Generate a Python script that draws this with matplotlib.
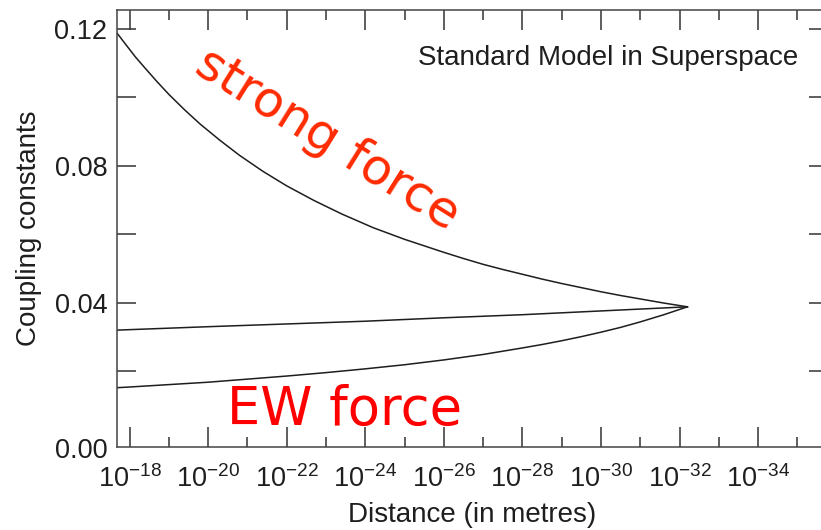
import matplotlib.pyplot as plt
from matplotlib.ticker import FixedLocator
from matplotlib.transforms import ScaledTranslation

plt.rcParams['font.family'] = ['Liberation Sans', 'DejaVu Sans']
plt.rcParams['mathtext.fontset'] = 'custom'
plt.rcParams['mathtext.rm'] = 'Liberation Sans'
plt.rcParams['mathtext.it'] = 'Liberation Sans:italic'
plt.rcParams['mathtext.bf'] = 'Liberation Sans:bold'

# x values are n for a distance of 10^-n metres
strong_n = [17.68, 17.9, 18.15, 18.4, 18.7, 19.0, 19.4, 19.8, 20.3, 20.8,
            21.4, 22.0, 22.7, 23.4, 24.2, 25.0, 25.5, 26.0, 26.5, 27.0,
            27.5, 28.0, 28.5, 29.0, 29.5, 30.0, 30.5, 31.0, 31.6, 32.2]
strong_a = [0.1187, 0.1154, 0.1117, 0.1084, 0.1045, 0.1008, 0.0963, 0.0921,
            0.0874, 0.0830, 0.0783, 0.0741, 0.0698, 0.0659, 0.0619, 0.0585,
            0.0566, 0.0547, 0.0529, 0.0512, 0.0497, 0.0483, 0.0469, 0.0456,
            0.0444, 0.0432, 0.0421, 0.0411, 0.0399, 0.0388]

weak_n = [17.68, 20.0, 22.0, 24.0, 26.0, 28.0, 30.0, 32.2]
weak_a = [0.0320, 0.0330, 0.0338, 0.0346, 0.0356, 0.0365, 0.0376, 0.0388]

hyper_n = [17.68, 18.0, 19.0, 20.0, 21.0, 22.0, 23.0, 24.0, 25.0, 26.0,
           27.0, 28.0, 28.5, 29.0, 29.5, 30.0, 30.5, 31.0, 31.6, 32.2]
hyper_a = [0.0152, 0.0154, 0.0161, 0.0168, 0.0177, 0.0186, 0.0196, 0.0207,
           0.0219, 0.0233, 0.0249, 0.0268, 0.0278, 0.0289, 0.0301, 0.0314,
           0.0328, 0.0344, 0.0365, 0.0388]

xticks = [18, 20, 22, 24, 26, 28, 30, 32, 34]
xminor = [19, 21, 23, 25, 27, 29, 31, 33, 35]
yticks = [0.00, 0.02, 0.04, 0.06, 0.08, 0.10, 0.12]
ylabels = ['0.00', '', '0.04', '', '0.08', '', '0.12']

fig = plt.figure(figsize=(8.21, 5.30), dpi=100)
ax = fig.add_axes([0.1425, 0.156, 0.8656, 0.825])

for n, a in [(strong_n, strong_a), (weak_n, weak_a), (hyper_n, hyper_a)]:
    ax.plot(n, a, color='#1e1e1e', lw=1.1)

ax.set_xlim(17.68, 35.77)
ax.set_ylim(-0.0022, 0.1254)

ax.set_xticks(xticks)
ax.set_xticklabels([r'$10^{-%d}$' % n for n in xticks])
ax.xaxis.set_minor_locator(FixedLocator(xminor))
ax.set_yticks(yticks)
ax.set_yticklabels(ylabels)

ax.tick_params(which='both', direction='in', top=True, right=True,
               labelsize=19.5, color='#333333', width=1.1, pad=7,
               labelcolor='#1e1e1e')
ax.tick_params(axis='x', which='major', length=14.5, pad=13)
ax.tick_params(axis='x', which='minor', length=7.5)
ax.tick_params(axis='y', which='major', length=13.5)
for sp in ax.spines.values():
    sp.set_color('#444444')
    sp.set_linewidth(1.1)

# no tick mark at zero, and its label sits a little lower
t0 = ax.yaxis.get_major_ticks()[0]
t0.tick1line.set_visible(False)
t0.tick2line.set_visible(False)
lab0 = ax.get_yticklabels()[0]
lab0.set_transform(lab0.get_transform() + ScaledTranslation(0, -0.08, fig.dpi_scale_trans))

ax.set_xlabel('Distance (in metres)', fontsize=20, labelpad=6, color='#1e1e1e')
ax.set_ylabel('Coupling constants', fontsize=20, labelpad=9, color='#1e1e1e')

ax.text(30.18, 0.1114, 'Standard Model in Superspace', fontsize=20,
        ha='center', va='center', color='#1e1e1e')
ax.text(23.03, 0.0875, 'strong force', fontsize=36, rotation=-32,
        rotation_mode='anchor', ha='center', va='center', color='#ff2a00',
        family='DejaVu Sans')
ax.text(23.46, 0.0087, 'EW force', fontsize=38, ha='center', va='center',
        color='#ff0000', family='DejaVu Sans')

fig.savefig('out.png', dpi=100)
